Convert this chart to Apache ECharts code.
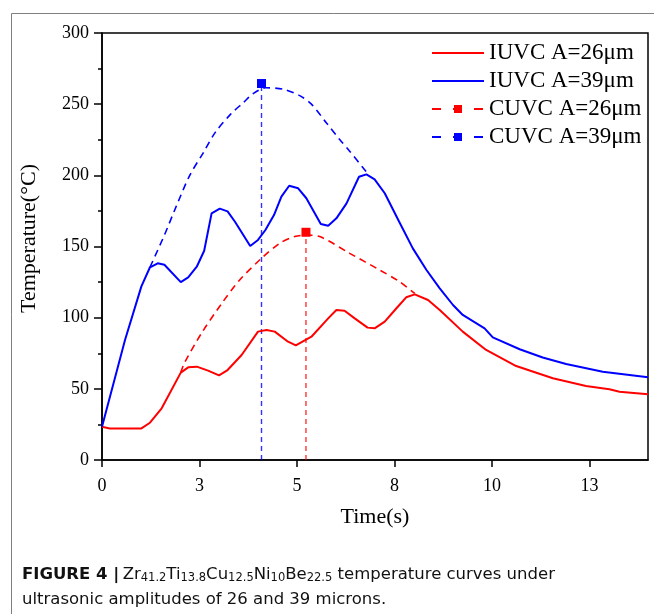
<!DOCTYPE html>
<html><head><meta charset="utf-8">
<script src="https://cdn.jsdelivr.net/npm/echarts@6/dist/echarts.min.js"></script>
<style>html,body{margin:0;padding:0;background:#fff}#c{width:654px;height:614px}</style>
</head><body><div id="c"></div>
<script>
// ---- data ----
const iuvc26Time = [0, 0.2, 1.01, 1.23, 1.53, 2.02, 2.21, 2.43, 2.72, 3.0, 3.22, 3.58, 4.0, 4.22, 4.43, 4.77, 4.97, 5.37, 5.8, 6.01, 6.22, 6.48, 6.81, 6.99, 7.25, 7.55, 7.8, 8.02, 8.36, 8.66, 9.25, 9.85, 10.62, 11.56, 12.41, 13.01, 13.27, 14.0];
const iuvc26Temp = [23.4, 22.2, 22.2, 26.2, 36.3, 61.4, 65.1, 65.6, 62.8, 59.5, 63.2, 73.8, 90.2, 91.3, 90.2, 83.1, 80.5, 86.6, 99.5, 105.4, 104.9, 99.5, 93, 92.5, 97.2, 106.6, 114.3, 116.4, 112.4, 105.4, 90.2, 77.3, 66, 57.4, 52, 49.7, 48, 46.2];

const iuvc39Time = [0, 0.59, 1.01, 1.23, 1.43, 1.6, 2.02, 2.21, 2.43, 2.62, 2.81, 3.02, 3.22, 3.41, 3.8, 4.0, 4.19, 4.41, 4.6, 4.8, 5.03, 5.24, 5.61, 5.8, 6.01, 6.27, 6.59, 6.78, 6.99, 7.25, 7.62, 7.97, 8.32, 8.66, 9.0, 9.25, 9.81, 10.02, 10.71, 11.3, 11.9, 12.84, 14.0];
const iuvc39Temp = [23.4, 84.3, 122, 135.4, 138.2, 137.2, 125, 128.3, 135.8, 147, 173.3, 176.6, 174.7, 167.4, 150.4, 154.6, 161.6, 172.1, 185, 192.7, 190.9, 183.9, 165.8, 164.6, 169.8, 180.3, 199, 200.7, 197.2, 187.4, 167.4, 148.7, 133.5, 120.6, 108.9, 101.9, 92.5, 86.2, 77.8, 72, 67.4, 62, 58.1];

const cuvc26Time = [2.02, 2.11, 2.55, 3.07, 3.53, 4.09, 4.56, 4.94, 5.24, 5.58, 6.35, 7.12, 7.63, 8.02];
const cuvc26Temp = [61.4, 68, 89, 110, 126.5, 141.7, 152.3, 157, 158, 157, 145.2, 133.5, 125.3, 117];
const cuvc26Peak = [5.23, 160];

const cuvc39Time = [1.23, 1.6, 1.9, 2.25, 2.6, 2.9, 3.3, 3.62, 3.88, 4.2, 4.64, 5.07, 5.37, 5.75, 6.1, 6.35, 6.82];
const cuvc39Temp = [135.4, 158, 178, 200, 216, 230, 243, 251, 257.5, 261.5, 260.5, 256, 250, 237, 225, 217, 201];
const cuvc39Peak = [4.09, 264.5];

const xTickValues = [0, 2.5, 5, 7.5, 10, 12.5];
const xTickLabels = ['0', '3', '5', '8', '10', '13'];

const seriesNames = ['IUVC A=26\u03bcm', 'IUVC A=39\u03bcm', 'CUVC A=26\u03bcm', 'CUVC A=39\u03bcm'];

// ---- chart ----
function pairs(xs, ys) { return xs.map((x, i) => [x, ys[i]]); }
function peakLine(p) { return [{ value: [p[0], 0], symbol: 'none' }, { value: [p[0], p[1]] }]; }

const RED = '#ff0000', BLUE = '#0000ff';
const SERIF = 'Liberation Serif';
const CAP = 'DejaVu Sans';

const chart = echarts.init(document.getElementById('c'), null, { renderer: 'canvas' });
chart.setOption({
  animation: false,
  backgroundColor: '#fff',
  grid: { left: 102, right: 6, top: 33, bottom: 154, show: true, borderColor: '#000', borderWidth: 1.5, containLabel: false },
  legend: {
    orient: 'vertical', left: 431, top: 41, padding: 0,
    itemWidth: 52, itemHeight: 10, itemGap: 4,
    textStyle: { fontFamily: SERIF, fontSize: 23, color: '#000', lineHeight: 24 },
    data: [
      { name: seriesNames[0], itemStyle: { opacity: 0 } },
      { name: seriesNames[1], itemStyle: { opacity: 0 } },
      { name: seriesNames[2], lineStyle: { type: [9, 12] } },
      { name: seriesNames[3], lineStyle: { type: [9, 12] } }
    ]
  },
  xAxis: {
    type: 'value', min: 0, max: 14,
    axisLine: { show: true, lineStyle: { color: '#000', width: 1.5 } },
    axisTick: { show: true, inside: false, length: 7, lineStyle: { color: '#000', width: 1.5 }, customValues: xTickValues },
    axisLabel: { customValues: xTickValues, formatter: v => xTickLabels[xTickValues.indexOf(v)] ?? '', fontFamily: SERIF, fontSize: 18, color: '#000', margin: 17 },
    splitLine: { show: false },
    name: 'Time(s)', nameLocation: 'middle', nameGap: 46,
    nameTextStyle: { fontFamily: SERIF, fontSize: 22, color: '#000' }
  },
  yAxis: {
    type: 'value', min: 0, max: 300, interval: 50,
    axisLine: { show: true, lineStyle: { color: '#000', width: 1.5 } },
    axisTick: { show: true, inside: false, length: 8, lineStyle: { color: '#000', width: 1.5 } },
    minorTick: { show: true, splitNumber: 2, length: 4, lineStyle: { color: '#000', width: 1.5 } },
    axisLabel: { fontFamily: SERIF, fontSize: 18, color: '#000', margin: 13 },
    splitLine: { show: false },
    name: 'Temperature(\u00b0C)', nameLocation: 'middle', nameGap: 62,
    nameTextStyle: { fontFamily: SERIF, fontSize: 22, color: '#000', padding: [0, 0, 0, 16] }
  },
  series: [
    { name: seriesNames[0], type: 'line', data: pairs(iuvc26Time, iuvc26Temp), symbol: 'none',
      lineStyle: { color: RED, width: 2 }, itemStyle: { color: RED }, z: 5 },
    { name: seriesNames[1], type: 'line', data: pairs(iuvc39Time, iuvc39Temp), symbol: 'none',
      lineStyle: { color: BLUE, width: 2 }, itemStyle: { color: BLUE }, z: 5 },
    { name: seriesNames[2], type: 'line', data: pairs(cuvc26Time, cuvc26Temp), symbol: 'rect', symbolSize: 9, showSymbol: false, smooth: 0.3,
      lineStyle: { color: RED, width: 1.6, type: [7, 5] }, itemStyle: { color: RED }, z: 4 },
    { name: seriesNames[3], type: 'line', data: pairs(cuvc39Time, cuvc39Temp), symbol: 'rect', symbolSize: 9, showSymbol: false, smooth: 0.3,
      lineStyle: { color: BLUE, width: 1.6, type: [7, 5] }, itemStyle: { color: BLUE }, z: 4 },
    { name: seriesNames[2], type: 'line', data: peakLine(cuvc26Peak), symbol: 'rect', symbolSize: 9, showSymbol: true,
      lineStyle: { color: RED, width: 1.4, type: [5, 4], opacity: 0.8 }, itemStyle: { color: RED }, z: 4 },
    { name: seriesNames[3], type: 'line', data: peakLine(cuvc39Peak), symbol: 'rect', symbolSize: 9, showSymbol: true,
      lineStyle: { color: BLUE, width: 1.4, type: [5, 4], opacity: 0.8 }, itemStyle: { color: BLUE }, z: 4 }
  ],
  graphic: [
    { type: 'rect', left: 9, top: 11, z: -10, silent: true,
      shape: { x: 0, y: 0, width: 700, height: 700 },
      style: { fill: 'none', stroke: '#7f7f7f', lineWidth: 1 } },
    { type: 'text', left: 22, top: 566, silent: true,
      style: {
        text: '{b|FIGURE 4 |} {n|Zr}{s|41.2}{n|Ti}{s|13.8}{n|Cu}{s|12.5}{n|Ni}{s|10}{n|Be}{s|22.5}{n| temperature curves under}',
        rich: {
          b: { fontFamily: CAP, fontWeight: 'bold', fontSize: 16.5, lineHeight: 20, fill: '#111' },
          n: { fontFamily: CAP, fontSize: 16.5, lineHeight: 20, fill: '#111' },
          s: { fontFamily: CAP, fontSize: 11.5, lineHeight: 10, verticalAlign: 'bottom', fill: '#111' }
        }
      } },
    { type: 'text', left: 22, top: 591, silent: true,
      style: { text: 'ultrasonic amplitudes of 26 and 39 microns.', fontFamily: CAP, fontSize: 16.5, fill: '#111' } }
  ]
});
</script>
</body></html>
